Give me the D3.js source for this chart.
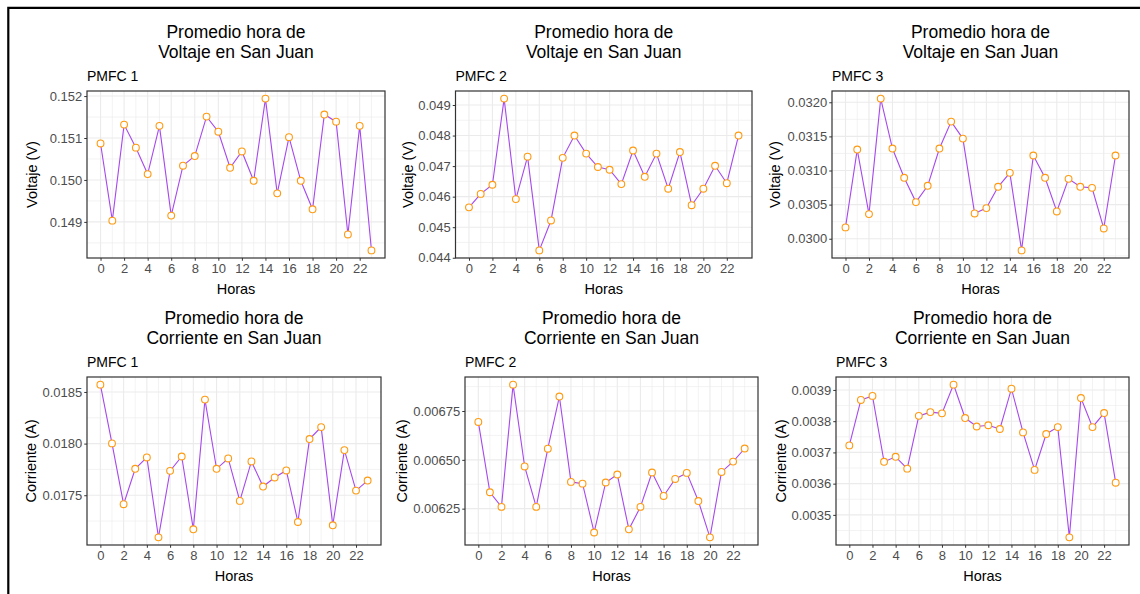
<!DOCTYPE html>
<html lang="es">
<head>
<meta charset="utf-8">
<title>Promedio hora en San Juan</title>
<script src="https://cdnjs.cloudflare.com/ajax/libs/d3/7.8.5/d3.min.js"></script>
<style>
  body { margin: 0; background: #fff; }
  svg { display: block; font-family: "Liberation Sans", Arial, sans-serif; }
</style>
</head>
<body>
<script>
// horas del dia
var horas = [0, 1, 2, 3, 4, 5, 6, 7, 8, 9, 10, 11, 12, 13, 14, 15, 16, 17, 18, 19, 20, 21, 22, 23];
var horaTicks = [0, 2, 4, 6, 8, 10, 12, 14, 16, 18, 20, 22];

// promedios por hora
var voltajePMFC1 = [0.15087, 0.14903, 0.15132, 0.15077, 0.15014, 0.15129, 0.14915, 0.15034,
    0.15057, 0.15151, 0.15115, 0.15029, 0.15068, 0.14998, 0.15194, 0.14968,
    0.15102, 0.14998, 0.14930, 0.15156, 0.15139, 0.14870, 0.15129, 0.14832];
var voltajePMFC2 = [0.04565, 0.04609, 0.04639, 0.04921, 0.04592, 0.04731, 0.04424, 0.04522,
    0.04727, 0.04800, 0.04741, 0.04697, 0.04688, 0.04641, 0.04751, 0.04665,
    0.04741, 0.04626, 0.04746, 0.04572, 0.04626, 0.04701, 0.04644, 0.04800];
var voltajePMFC3 = [0.030166, 0.031307, 0.030361, 0.032054, 0.031322, 0.030893, 0.030537, 0.030776,
    0.031322, 0.031717, 0.031468, 0.030371, 0.030449, 0.030761, 0.030966, 0.029829,
    0.031220, 0.030893, 0.030400, 0.030878, 0.030761, 0.030746, 0.030151, 0.031220];
var corrientePMFC1 = [0.018571, 0.018002, 0.017413, 0.017756, 0.017866, 0.017092, 0.017736, 0.017875,
    0.017170, 0.018426, 0.017756, 0.017856, 0.017445, 0.017827, 0.017584, 0.017672,
    0.017740, 0.017241, 0.018044, 0.018160, 0.017209, 0.017937, 0.017545, 0.017642];
var corrientePMFC2 = [0.006694, 0.006334, 0.006259, 0.006885, 0.006466, 0.006259, 0.006557, 0.006824,
    0.006387, 0.006378, 0.006128, 0.006384, 0.006425, 0.006144, 0.006259, 0.006435,
    0.006315, 0.006402, 0.006433, 0.006289, 0.006103, 0.006438, 0.006491, 0.006558];
var corrientePMFC3 = [0.0037225, 0.003868, 0.003881, 0.003670, 0.003686, 0.003648, 0.003817, 0.003829,
    0.003825, 0.003917, 0.003810, 0.003783, 0.003787, 0.003775, 0.003904, 0.003764,
    0.003644, 0.003759, 0.003781, 0.003428, 0.003874, 0.003781, 0.003826, 0.003603];

// marcas del eje y
var ticksV1 = [0.149, 0.150, 0.151, 0.152];
var labelsV1 = ["0.149", "0.150", "0.151", "0.152"];
var ticksV2 = [0.044, 0.045, 0.046, 0.047, 0.048, 0.049];
var labelsV2 = ["0.044", "0.045", "0.046", "0.047", "0.048", "0.049"];
var ticksV3 = [0.0300, 0.0305, 0.0310, 0.0315, 0.0320];
var labelsV3 = ["0.0300", "0.0305", "0.0310", "0.0315", "0.0320"];
var ticksC1 = [0.0175, 0.0180, 0.0185];
var labelsC1 = ["0.0175", "0.0180", "0.0185"];
var ticksC2 = [0.00625, 0.00650, 0.00675];
var labelsC2 = ["0.00625", "0.00650", "0.00675"];
var ticksC3 = [0.0035, 0.0036, 0.0037, 0.0038, 0.0039];
var labelsC3 = ["0.0035", "0.0036", "0.0037", "0.0038", "0.0039"];

var w = 1140;
var h = 594;

var panels = [
    {var: "Voltaje", pmfc: "PMFC 1", values: voltajePMFC1, ticks: ticksV1, labels: labelsV1, ylab: "Voltaje (V)",
        x0: 87, x1: 385, y0: 91, y1: 258, ylabX: 32},
    {var: "Voltaje", pmfc: "PMFC 2", values: voltajePMFC2, ticks: ticksV2, labels: labelsV2, ylab: "Voltaje (V)",
        x0: 455.5, x1: 752, y0: 91, y1: 258, ylabX: 408},
    {var: "Voltaje", pmfc: "PMFC 3", values: voltajePMFC3, ticks: ticksV3, labels: labelsV3, ylab: "Voltaje (V)",
        x0: 832, x1: 1129, y0: 91, y1: 258, ylabX: 775},
    {var: "Corriente", pmfc: "PMFC 1", values: corrientePMFC1, ticks: ticksC1, labels: labelsC1, ylab: "Corriente (A)",
        x0: 87, x1: 381, y0: 377, y1: 545, ylabX: 31},
    {var: "Corriente", pmfc: "PMFC 2", values: corrientePMFC2, ticks: ticksC2, labels: labelsC2, ylab: "Corriente (A)",
        x0: 465, x1: 758, y0: 377, y1: 545, ylabX: 402},
    {var: "Corriente", pmfc: "PMFC 3", values: corrientePMFC3, ticks: ticksC3, labels: labelsC3, ylab: "Corriente (A)",
        x0: 836, x1: 1129, y0: 377, y1: 545, ylabX: 781}
];

var svg = d3.select("body")
    .append("svg")
    .attr("width", w)
    .attr("height", h);

// marco exterior
svg.append("path")
    .attr("d", "M8.3," + h + "V7.8H" + w)
    .attr("fill", "none")
    .attr("stroke", "#000")
    .attr("stroke-width", 2.2);

// ggplot: expansion del 5%
function expand(ext){
    var pad = (ext[1] - ext[0]) * 0.05;
    return [ext[0] - pad, ext[1] + pad];
}

panels.forEach(function(p){
    var g = svg.append("g");

    var xScale = d3.scaleLinear()
        .domain(expand(d3.extent(horas)))
        .range([p.x0, p.x1]);
    var yScale = d3.scaleLinear()
        .domain(expand(d3.extent(p.values)))
        .range([p.y1, p.y0]);

    var dom = yScale.domain();
    var step = p.ticks[1] - p.ticks[0];
    var minorY = [p.ticks[0] - step / 2].concat(p.ticks.map(function(t){ return t + step / 2; }))
        .filter(function(v){ return v > dom[0] && v < dom[1]; });
    var minorX = horas.filter(function(d){ return d % 2 == 1; });

    // cuadricula menor
    g.selectAll(".minor-y")
        .data(minorY)
        .enter().append("line")
        .attr("x1", p.x0).attr("x2", p.x1)
        .attr("y1", function(d){ return yScale(d); })
        .attr("y2", function(d){ return yScale(d); })
        .attr("stroke", "#ebebeb").attr("stroke-width", 0.6);
    g.selectAll(".minor-x")
        .data(minorX)
        .enter().append("line")
        .attr("y1", p.y0).attr("y2", p.y1)
        .attr("x1", function(d){ return xScale(d); })
        .attr("x2", function(d){ return xScale(d); })
        .attr("stroke", "#ebebeb").attr("stroke-width", 0.6);

    // cuadricula mayor
    g.selectAll(".major-y")
        .data(p.ticks)
        .enter().append("line")
        .attr("x1", p.x0).attr("x2", p.x1)
        .attr("y1", function(d){ return yScale(d); })
        .attr("y2", function(d){ return yScale(d); })
        .attr("stroke", "#ebebeb").attr("stroke-width", 1.1);
    g.selectAll(".major-x")
        .data(horaTicks)
        .enter().append("line")
        .attr("y1", p.y0).attr("y2", p.y1)
        .attr("x1", function(d){ return xScale(d); })
        .attr("x2", function(d){ return xScale(d); })
        .attr("stroke", "#ebebeb").attr("stroke-width", 1.1);

    // linea y puntos
    var line = d3.line()
        .x(function(d, i){ return xScale(horas[i]); })
        .y(function(d){ return yScale(d); });

    g.append("path")
        .datum(p.values)
        .attr("d", line)
        .attr("fill", "none")
        .attr("stroke", "#a748ee")
        .attr("stroke-width", 1.1);

    g.selectAll("circle")
        .data(p.values)
        .enter().append("circle")
        .attr("cx", function(d, i){ return xScale(horas[i]); })
        .attr("cy", function(d){ return yScale(d); })
        .attr("r", 3.4)
        .attr("fill", "#fff")
        .attr("stroke", "#ff9a10")
        .attr("stroke-width", 1.1);

    // borde del panel
    g.append("rect")
        .attr("x", p.x0).attr("y", p.y0)
        .attr("width", p.x1 - p.x0).attr("height", p.y1 - p.y0)
        .attr("fill", "none")
        .attr("stroke", "#333")
        .attr("stroke-width", 1.2);

    // ejes
    var yAxis = d3.axisLeft(yScale)
        .tickValues(p.ticks)
        .tickFormat(function(d, i){ return p.labels[i]; })
        .tickSizeInner(2.75).tickSizeOuter(0).tickPadding(2);
    var xAxis = d3.axisBottom(xScale)
        .tickValues(horaTicks)
        .tickSizeInner(2.75).tickSizeOuter(0).tickPadding(3);

    var ya = g.append("g")
        .attr("transform", "translate(" + p.x0 + ",0)")
        .call(yAxis);
    var xa = g.append("g")
        .attr("transform", "translate(0," + p.y1 + ")")
        .call(xAxis);

    [ya, xa].forEach(function(a){
        a.select(".domain").remove();
        a.selectAll(".tick line").attr("stroke", "#333").attr("stroke-width", 1);
        a.selectAll(".tick text")
            .attr("fill", "#4d4d4d")
            .style("font-size", "13px")
            .style("font-family", "'Liberation Sans', Arial, sans-serif");
    });

    // titulos
    var cx = (p.x0 + p.x1) / 2;
    g.append("text")
        .attr("x", cx).attr("y", p.y0 - 53)
        .attr("text-anchor", "middle")
        .style("font-size", "17.5px")
        .text("Promedio hora de");
    g.append("text")
        .attr("x", cx).attr("y", p.y0 - 33.5)
        .attr("text-anchor", "middle")
        .style("font-size", "17.5px")
        .text(p.var + " en San Juan");
    g.append("text")
        .attr("x", p.x0).attr("y", p.y0 - 9.8)
        .style("font-size", "14px")
        .text(p.pmfc);

    g.append("text")
        .attr("x", cx).attr("y", p.y1 + 36)
        .attr("text-anchor", "middle")
        .style("font-size", "14.5px")
        .text("Horas");

    g.append("text")
        .attr("transform", "translate(" + p.ylabX + "," + ((p.y0 + p.y1) / 2) + ") rotate(-90)")
        .attr("dy", "0.35em")
        .attr("text-anchor", "middle")
        .style("font-size", "14.5px")
        .text(p.ylab);
});
</script>
</body>
</html>
